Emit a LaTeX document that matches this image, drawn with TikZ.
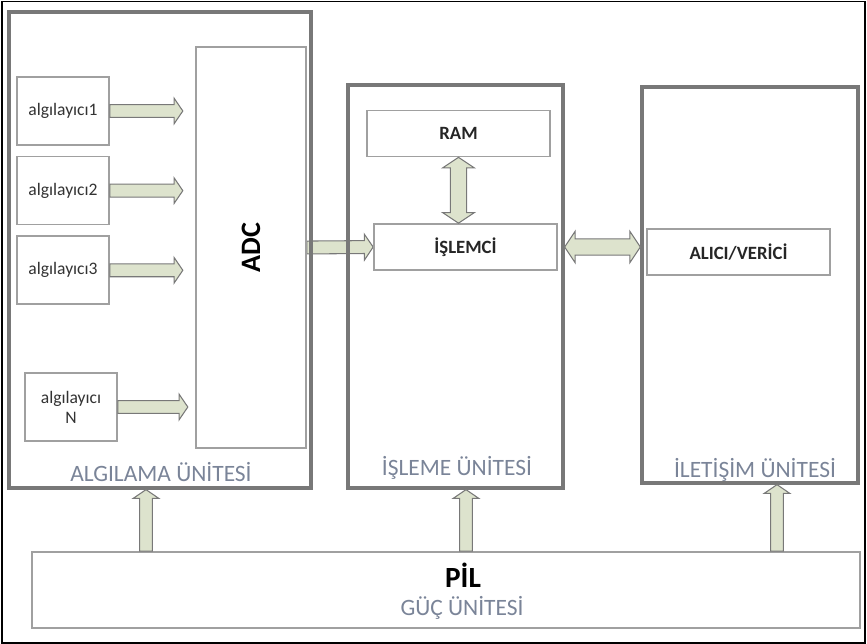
\documentclass[tikz,border=0pt]{standalone}
\usepackage{fontspec}
\setmainfont{Carlito}
\usetikzlibrary{positioning, calc, backgrounds}
\definecolor{unitgray}{RGB}{120,120,120}
\definecolor{boxgray}{RGB}{160,160,160}
\definecolor{arrowfill}{RGB}{221,227,205}
\definecolor{lblgray}{RGB}{122,132,152}
\tikzset{
    unitbox/.style={draw=unitgray, line width=2.8pt},
    blkbox/.style={draw=boxgray, line width=1.4pt, fill=white},
    sensorbox/.style={blkbox, minimum width=2.76cm, minimum height=2.04cm, align=center, text=black!80, font=\fontsize{15}{17}\selectfont},
    chipbox/.style={blkbox, minimum width=5.49cm, minimum height=1.38cm, text=black!85, font=\fontsize{16}{18}\selectfont\bfseries},
    unitlbl/.style={text=lblgray, font=\fontsize{20}{22}\selectfont},
    barrow/.style={draw=unitgray, line width=0.9pt, fill=arrowfill, line join=miter}
}
% block arrow from #1 to #2
\newcommand{\blockarrow}[2]{%
  \coordinate (ba1) at ($(#2)!7.5pt!(#1)$);
  \draw[barrow] ($(#1)!5.5pt!90:(#2)$) -- ($(ba1)!5.5pt!90:(#2)$) -- ($(ba1)!11pt!90:(#2)$) -- (#2)
    -- ($(ba1)!11pt!-90:(#2)$) -- ($(ba1)!5.5pt!-90:(#2)$) -- ($(#1)!5.5pt!-90:(#2)$) -- cycle;}
% double block arrow between #1 and #2
\newcommand{\dblarrow}[2]{%
  \coordinate (ba1) at ($(#2)!9pt!(#1)$);
  \coordinate (ba2) at ($(#1)!9pt!(#2)$);
  \draw[barrow] (#1) -- ($(ba2)!13.5pt!90:(#2)$) -- ($(ba2)!7pt!90:(#2)$) -- ($(ba1)!7pt!90:(#2)$)
    -- ($(ba1)!13.5pt!90:(#2)$) -- (#2) -- ($(ba1)!13.5pt!-90:(#2)$) -- ($(ba1)!7pt!-90:(#2)$)
    -- ($(ba2)!7pt!-90:(#2)$) -- ($(ba2)!13.5pt!-90:(#2)$) -- cycle;}

\begin{document}
\begin{tikzpicture}[x=0.03cm, y=-0.03cm]
    \useasboundingbox (0,0) rectangle (867,644);
    \draw[black, line width=1.7pt] (2,1.5) rectangle (865,642.5);

    % units
    \node[unitbox, minimum width=9.06cm, minimum height=14.28cm] (alg) at (160,250) {};
    \node[unitbox, minimum width=6.45cm, minimum height=12.09cm] (isl) at (455.5,286.5) {};
    \node[unitbox, minimum width=6.48cm, minimum height=11.88cm] (ilt) at (750,285) {};
    \node[unitlbl] (alglbl) at (161,472) {ALGILAMA ÜNİTESİ};
    \node[unitlbl] (isllbl) at (457,468) {İŞLEME ÜNİTESİ};
    \node[unitlbl] (iltlbl) at (755,470) {İLETİŞİM ÜNİTESİ};

    % sensing
    \node[sensorbox] (s1) at (63,111) {algılayıcı1};
    \node[sensorbox, below=0.3cm of s1] (s2) {algılayıcı2};
    \node[sensorbox, below=0.3cm of s2] (s3) {algılayıcı3};
    \node[sensorbox] (sN) at (71,407) {algılayıcı\\N};
    \node[blkbox, minimum width=3.3cm, minimum height=12.03cm] (adc) at (251,247.5) {};
    \node[rotate=90, font=\fontsize{24}{26}\selectfont\bfseries] (adclbl) at (adc) {ADC};
    \foreach \s/\d in {s1/73, s2/73, s3/73, sN/70} {
        \coordinate (e\s) at ($(\s.east)+(\d,0)$);
        \blockarrow{\s.east}{e\s}
    }

    % processing and communication
    \node[chipbox] (ram) at (458.5,133.5) {RAM};
    \node[chipbox] (cpu) at (465.5,247) {İŞLEMCİ};
    \node[chipbox] (trx) at (738.5,252) {ALICI/VERİCİ};
    \begin{scope}[on background layer]
        \blockarrow{adc.east}{cpu.west}
    \end{scope}
    \coordinate (r1) at (ram.south |- cpu.north);
    \dblarrow{ram.south}{r1}
    \coordinate (t1) at (cpu.east -| isl.east);
    \coordinate (t2) at (cpu.east -| ilt.west);
    \dblarrow{t1}{t2}

    % power
    \node[blkbox, minimum width=24.84cm, minimum height=2.28cm] (pil) at (446,590) {};
    \node[font=\fontsize{25}{27}\selectfont\bfseries] (piltxt) at (463,575) {PİL};
    \node[unitlbl] (pillbl) at (462,608) {GÜÇ ÜNİTESİ};
    \foreach \u/\xp in {alg/146, isl/466, ilt/777} {
        \coordinate (pb\u) at (\xp,0 |- pil.north);
        \coordinate (pt\u) at (\xp,0 |- \u.south);
        \blockarrow{pb\u}{pt\u}
    }
\end{tikzpicture}
\end{document}
